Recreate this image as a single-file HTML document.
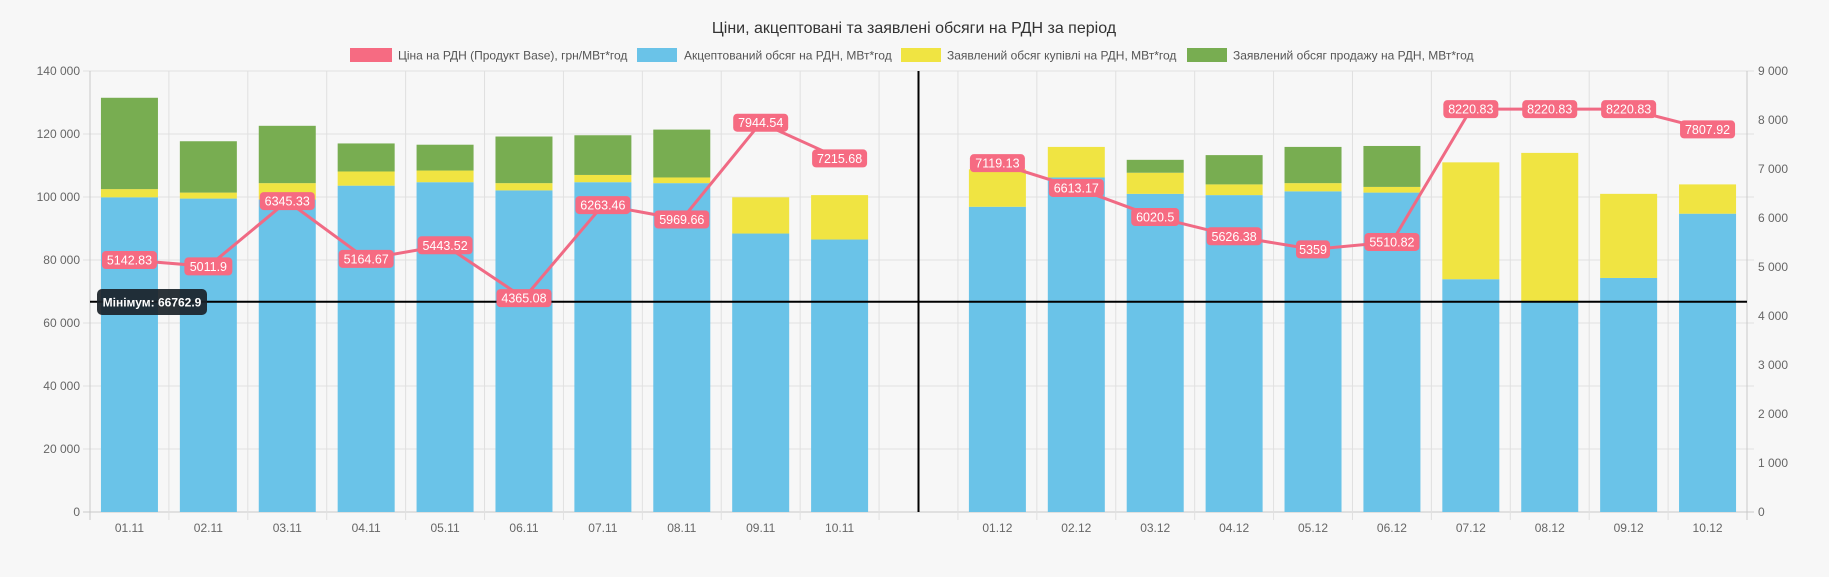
<!DOCTYPE html>
<html><head><meta charset="utf-8"><style>
html,body{margin:0;padding:0;background:#f7f7f7;}
svg{display:block;font-family:"Liberation Sans",sans-serif;}
</style></head><body>
<svg id="c" width="1829" height="577" viewBox="0 0 1829 577" xmlns="http://www.w3.org/2000/svg">
<rect width="1829" height="577" fill="#f7f7f7"/>
<text x="914" y="33" font-size="16" fill="#333" text-anchor="middle">Ціни, акцептовані та заявлені обсяги на РДН за період</text>
<rect x="350" y="48" width="42" height="14" fill="#f66b82"/><text x="398" y="59.5" font-size="12" fill="#555">Ціна на РДН (Продукт Base), грн/МВт*год</text>
<rect x="637" y="48" width="40" height="14" fill="#6ac3e8"/><text x="684" y="59.5" font-size="12" fill="#555">Акцептований обсяг на РДН, МВт*год</text>
<rect x="901" y="48" width="40" height="14" fill="#f0e442"/><text x="947" y="59.5" font-size="12" fill="#555">Заявлений обсяг купівлі на РДН, МВт*год</text>
<rect x="1187" y="48" width="40" height="14" fill="#78ad51"/><text x="1233" y="59.5" font-size="12" fill="#555">Заявлений обсяг продажу на РДН, МВт*год</text>
<g id="g"></g>
</svg>
<script>
var ns="http://www.w3.org/2000/svg",g=document.getElementById("g");
function el(t,a,txt){var e=document.createElementNS(ns,t);for(var k in a)e.setAttribute(k,a[k]);if(txt!=null)e.textContent=txt;g.appendChild(e);return e;}
var X0=90,X1=1747,Y0=512,YT=71,W=(X1-X0)/21;
function yl(v){return Y0-v/140000*(Y0-YT);}
function yr(v){return Y0-v/9000*(Y0-YT);}
// horizontal grid
for(var i=0;i<=7;i++){var y=yl(i*20000);el("line",{x1:X0-7,x2:X1+7,y1:y,y2:y,stroke:i==0?"#c8c8c8":"#e0e0e0","stroke-width":1});
el("text",{x:80,y:y+4,"font-size":12,fill:"#666","text-anchor":"end"},i==0?"0":(i*20)+" 000");}
for(var i=0;i<=9;i++){var y=yr(i*1000);el("text",{x:1758,y:y+4,"font-size":12,fill:"#666"},i==0?"0":i+" 000");}
for(var i=0;i<=21;i++){var x=X0+i*W;el("line",{x1:x,x2:x,y1:YT,y2:Y0+8,stroke:(i==0||i==21)?"#c8c8c8":"#e0e0e0","stroke-width":1});}
var labs=["01.11","02.11","03.11","04.11","05.11","06.11","07.11","08.11","09.11","10.11","","01.12","02.12","03.12","04.12","05.12","06.12","07.12","08.12","09.12","10.12"];
var B=[[99900,102500,131500],[99500,101400,117700],[99200,104400,122600],[103600,108100,117000],[104700,108400,116600],[102100,104400,119200],[104700,107000,119600],[104400,106200,121400],[88400,99900,0],[86500,100600,0],null,
[96900,108800,0],[106200,115900,0],[101000,107700,111800],[100600,104000,113300],[101800,104400,115900],[101400,103200,116200],[73900,111000,0],[66763,114000,0],[74300,101000,0],[94700,104000,0]];
var P=[5142.83,5011.9,6345.33,5164.67,5443.52,4365.08,6263.46,5969.66,7944.54,7215.68,null,7119.13,6613.17,6020.5,5626.38,5359,5510.82,8220.83,8220.83,8220.83,7807.92];
for(var i=0;i<21;i++){var cx=X0+(i+0.5)*W;
 if(labs[i])el("text",{x:cx,y:532,"font-size":12,fill:"#666","text-anchor":"middle"},labs[i]);
 var b=B[i];if(!b)continue;var bx=cx-28.5,bw=57;
 el("rect",{x:bx,y:yl(b[0]),width:bw,height:Y0-yl(b[0]),fill:"#6ac3e8"});
 el("rect",{x:bx,y:yl(b[1]),width:bw,height:yl(b[0])-yl(b[1]),fill:"#f0e442"});
 if(b[2])el("rect",{x:bx,y:yl(b[2]),width:bw,height:yl(b[1])-yl(b[2]),fill:"#78ad51"});
}
function pts(a,b){var s="";for(var i=a;i<=b;i++)s+=(X0+(i+0.5)*W)+","+yr(P[i])+" ";return s;}
el("polyline",{points:pts(0,9),fill:"none",stroke:"#f06a84","stroke-width":3});
el("polyline",{points:pts(11,20),fill:"none",stroke:"#f06a84","stroke-width":3});
// annotations
el("line",{x1:918.5,x2:918.5,y1:YT,y2:Y0,stroke:"#000","stroke-width":2});
var ym=yl(66762.9);
el("line",{x1:X0,x2:X1,y1:ym,y2:ym,stroke:"#000","stroke-width":2});
for(var i=0;i<21;i++){if(P[i]==null)continue;var cx=X0+(i+0.5)*W,y=yr(P[i]);var t=String(P[i]);var w=t.length*7+6;
 el("rect",{x:cx-w/2,y:y-9,width:w,height:18,rx:4,fill:"#f66b82"});
 el("text",{x:cx,y:y+4.5,"font-size":12.5,fill:"#fff","text-anchor":"middle"},t);}
el("rect",{x:97,y:289,width:110,height:26,rx:5,fill:"#1a2228","fill-opacity":0.92});
el("text",{x:152,y:306.5,"font-size":12,"font-weight":"bold",fill:"#fff","text-anchor":"middle"},"Мінімум: 66762.9");
</script>
</body></html>
